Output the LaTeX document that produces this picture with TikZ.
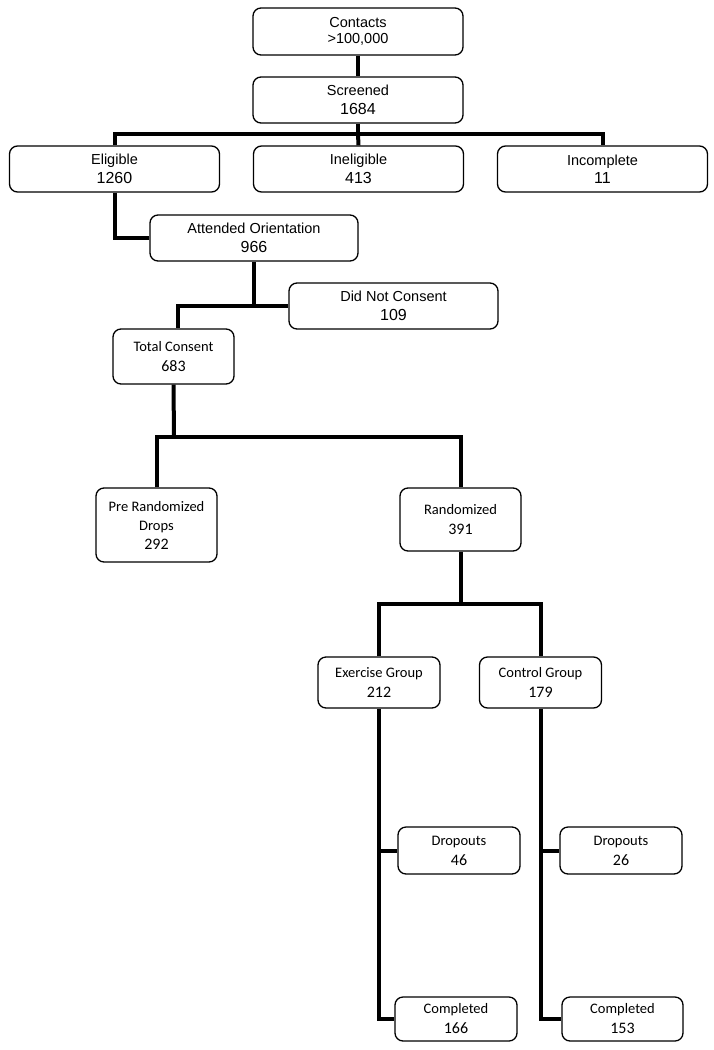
\documentclass[tikz,border=0pt]{standalone}
\usepackage{fontspec}
\newfontfamily\arialf{Liberation Sans}
\newfontfamily\calibf{Carlito}
\newcommand{\anum}{\fontsize{16}{18.5}\selectfont}
\newcommand{\cnum}{\fontsize{16}{20}\selectfont}
\tikzset{
  box/.style={draw, fill=white, rounded corners=8pt, line width=1.3pt, inner sep=0pt, align=center},
  tbox/.style={box, font=\arialf\fontsize{14.5}{18.5}\selectfont},
  cbox/.style={box, font=\calibf\fontsize{14.5}{20}\selectfont},
  conn/.style={line width=4pt, line join=miter}
}
\begin{document}
\begin{tikzpicture}[x=1pt,y=-1pt]
\useasboundingbox (0,0) rectangle (714,1050);
% nodes
\node[tbox, minimum width=210pt, minimum height=47pt, font=\arialf\fontsize{14.5}{16}\selectfont] (contacts) at (358,31.5) {Contacts\\>100,000};
\node[tbox, minimum width=210pt, minimum height=46pt] (screened) at (358,100) {Screened\\{\anum 1684}};
\node[tbox, minimum width=210pt, minimum height=46pt] (eligible) at (114.5,169) {Eligible\\{\anum 1260}};
\node[tbox, minimum width=210pt, minimum height=46pt] (ineligible) at (358.5,169) {Ineligible\\{\anum 413}};
\node[tbox, minimum width=210pt, minimum height=46pt] (incomplete) at (602.5,169) {Incomplete\\{\anum 11}};
\node[tbox, minimum width=208pt, minimum height=46pt] (attended) at (254,238) {Attended Orientation\\{\anum 966}};
\node[tbox, minimum width=209pt, minimum height=46pt] (dnc) at (393.5,306) {Did Not Consent\\{\anum 109}};
\node[cbox, minimum width=121pt, minimum height=55pt] (total) at (173.5,356.5) {Total Consent\\{\cnum 683}};
\node[cbox, minimum width=121pt, minimum height=74pt, font=\calibf\fontsize{14.5}{19}\selectfont] (pre) at (156.5,525) {Pre Randomized\\Drops\\{\cnum 292}};
\node[cbox, minimum width=121pt, minimum height=63pt] (rand) at (460.5,519.5) {Randomized\\{\cnum 391}};
\node[cbox, minimum width=122pt, minimum height=51pt] (exercise) at (379,682.5) {Exercise Group\\{\cnum 212}};
\node[cbox, minimum width=122pt, minimum height=51pt] (control) at (540.5,682.5) {Control Group\\{\cnum 179}};
\node[cbox, minimum width=122pt, minimum height=47pt] (drop1) at (459,850.5) {Dropouts\\{\cnum 46}};
\node[cbox, minimum width=122pt, minimum height=47pt] (drop2) at (621,850.5) {Dropouts\\{\cnum 26}};
\node[cbox, minimum width=122pt, minimum height=44pt] (comp1) at (456,1019) {Completed\\{\cnum 166}};
\node[cbox, minimum width=121pt, minimum height=44pt] (comp2) at (622.5,1019) {Completed\\{\cnum 153}};
% junctions
\coordinate (j1) at (358,134);
\coordinate (j2) at (254,306);
\coordinate (j3) at (174,437);
\coordinate (j4) at (460.5,604);
% connectors
\draw[conn] (contacts.south) -- (screened.north);
\draw[conn] (screened.south) -- (j1);
\draw[conn] (eligible.north) |- (j1) -| (incomplete.north);
\draw[conn] (j1) -- (ineligible.north);
\draw[conn] (eligible.south) |- (attended.west);
\draw[conn] (attended.south) -- (j2) -- (dnc.west);
\draw[conn] (j2) -| ([xshift=4.5pt]total.north);
\draw[conn] (total.south) -- (j3);
\draw[conn] (pre.north) |- (j3) -| (rand.north);
\draw[conn] (rand.south) -- (j4);
\draw[conn] (exercise.north) |- (j4) -| (control.north);
\draw[conn] (exercise.south) |- (comp1.west);
\draw[conn] (exercise.south |- drop1.west) -- (drop1.west);
\draw[conn] (control.south) |- (comp2.west);
\draw[conn] (control.south |- drop2.west) -- (drop2.west);
\end{tikzpicture}
\end{document}
